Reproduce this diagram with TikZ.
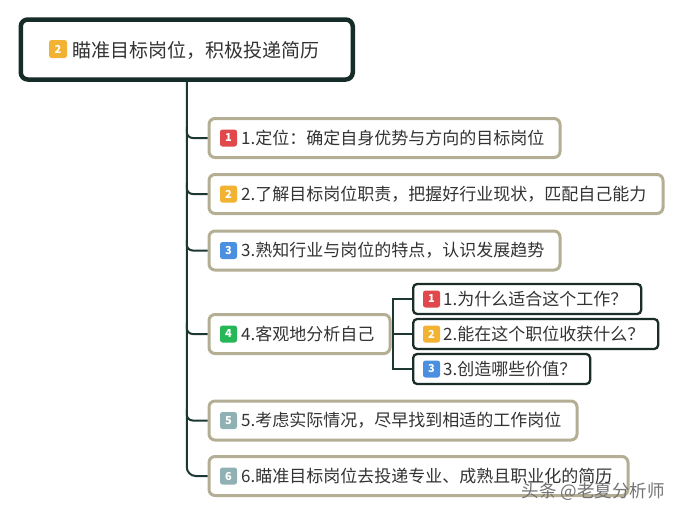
\documentclass[tikz,border=0pt]{standalone}
\usepackage{fontspec}
\newfontfamily\cjk{Noto Sans CJK SC}
\definecolor{rootc}{HTML}{152C28}
\definecolor{connc}{HTML}{1D3832}
\definecolor{khaki}{HTML}{B3AE94}
\definecolor{subc}{HTML}{1A2D29}
\definecolor{bred}{HTML}{E0484B}
\definecolor{byel}{HTML}{F2B232}
\definecolor{bblue}{HTML}{4A8FE0}
\definecolor{bgreen}{HTML}{26B856}
\definecolor{bgray}{HTML}{8FB1B3}
\definecolor{txt}{HTML}{333333}
\tikzset{
  rootbox/.style={draw=rootc, line width=4.5pt, rounded corners=7pt, fill=white, minimum width=332pt, minimum height=60pt, anchor=west, inner sep=0pt},
  lvbox/.style={draw=khaki, line width=3pt, rounded corners=6pt, fill=white, minimum height=39pt, anchor=west, inner sep=0pt},
  subbx/.style={draw=subc, line width=2.3pt, rounded corners=4pt, fill=white, minimum height=30pt, anchor=west, inner sep=0pt},
  lbl/.style={anchor=west, inner sep=0pt, text=txt, font=\cjk\fontsize{17}{19}\selectfont},
  rootlbl/.style={anchor=west, inner sep=0pt, text=txt, font=\cjk\fontsize{19}{22}\selectfont},
  badge/.style={rounded corners=2.5pt, minimum width=17pt, minimum height=17pt, inner sep=0pt, text=white, font=\cjk\bfseries\fontsize{11}{12}\selectfont},
  conn/.style={draw=connc, line width=2pt},
}
\begin{document}
\begin{tikzpicture}[x=1pt,y=-1pt]
\useasboundingbox (0,0) rectangle (679,514);
% root
\node[rootbox] (root) at (18.5,49.5) {};
\node[badge, fill=byel, minimum width=18pt, minimum height=18pt] (rb) at (58,49) {2};
\node[rootlbl] (rt) at (72,50) {瞄准目标岗位，积极投递简历};
% level one boxes
\node[lvbox, minimum width=351pt] (b1) at (207.5,138) {};
\node[lvbox, minimum width=454pt] (b2) at (207.5,194) {};
\node[lvbox, minimum width=351pt] (b3) at (207.5,250.5) {};
\node[lvbox, minimum width=181pt] (b4) at (207.5,334) {};
\node[lvbox, minimum width=368pt] (b5) at (207.5,420.5) {};
\node[lvbox, minimum width=419pt] (b6) at (207.5,476) {};
\node[badge, fill=bred] (k1) at (228.5,138) {1};
\node[badge, fill=byel] (k2) at (228.5,194) {2};
\node[badge, fill=bblue] (k3) at (228.5,250.5) {3};
\node[badge, fill=bgreen] (k4) at (228.5,334) {4};
\node[badge, fill=bgray] (k5) at (228.5,420.5) {5};
\node[badge, fill=bgray] (k6) at (228.5,476) {6};
\node[lbl] (t1) at (241,138) {1.定位：确定自身优势与方向的目标岗位};
\node[lbl] (t2) at (241,194) {2.了解目标岗位职责，把握好行业现状，匹配自己能力};
\node[lbl] (t3) at (241,250.5) {3.熟知行业与岗位的特点，认识发展趋势};
\node[lbl] (t4) at (241,334) {4.客观地分析自己};
\node[lbl] (t5) at (241,420.5) {5.考虑实际情况，尽早找到相适的工作岗位};
\node[lbl] (t6) at (241,476) {6.瞄准目标岗位去投递专业、成熟且职业化的简历};
% sub boxes
\node[subbx, minimum width=228pt] (s1) at (412,299) {};
\node[subbx, minimum width=245pt] (s2) at (412,334) {};
\node[subbx, minimum width=177pt] (s3) at (412,369) {};
\node[badge, fill=bred] (q1) at (431.5,299) {1};
\node[badge, fill=byel] (q2) at (431.5,334) {2};
\node[badge, fill=bblue] (q3) at (431.5,369) {3};
\node[lbl] (u1) at (443,299) {1.为什么适合这个工作？};
\node[lbl] (u2) at (443,334) {2.能在这个职位收获什么？};
\node[lbl] (u3) at (443,369) {3.创造哪些价值？};
% connectors
\draw[conn, rounded corners=9pt] (root.south) |- (b6.west);
\draw[conn, rounded corners=6pt] ([yshift=11pt]root.south |- b1.west) |- (b1.west);
\draw[conn, rounded corners=6pt] ([yshift=11pt]root.south |- b2.west) |- (b2.west);
\draw[conn, rounded corners=6pt] ([yshift=11pt]root.south |- b3.west) |- (b3.west);
\draw[conn, rounded corners=6pt] ([yshift=11pt]root.south |- b4.west) |- (b4.west);
\draw[conn, rounded corners=6pt] ([yshift=11pt]root.south |- b5.west) |- (b5.west);
\coordinate (j) at (393,334);
\draw[conn] (b4.east) -- (j);
\draw[conn] (s1.west) -| (j) |- (s3.west);
\draw[conn] (j) -- (s2.west);
% watermark
\node[anchor=east, inner sep=0pt, text=black!55, font=\cjk\fontsize{17.5}{19}\selectfont] (wm) at (665,492) {头条 @老夏分析师};
\end{tikzpicture}
\end{document}
